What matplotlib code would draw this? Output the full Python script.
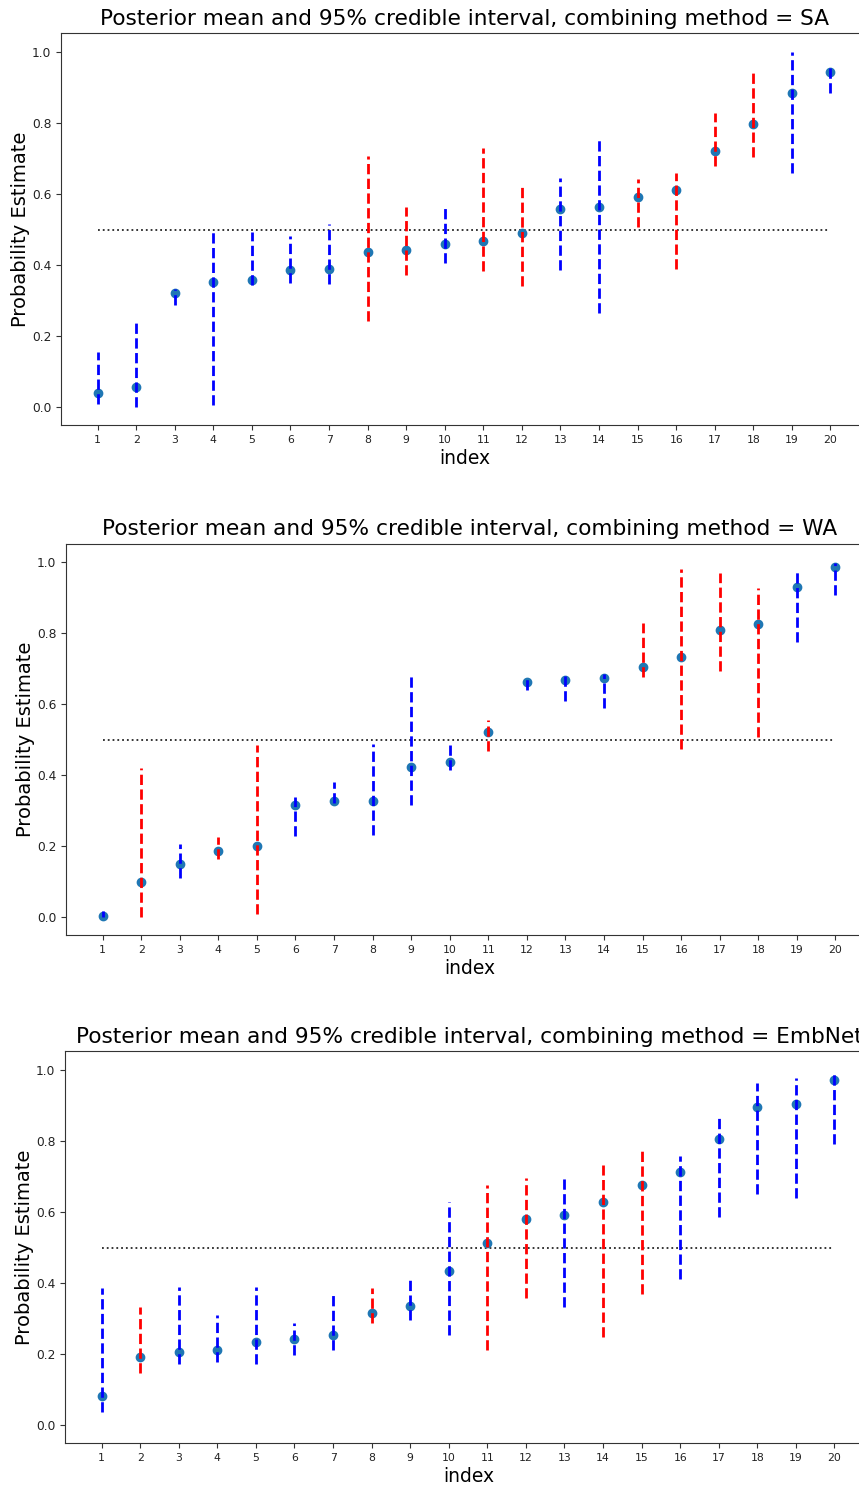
import matplotlib
matplotlib.use("Agg")
import matplotlib.pyplot as plt
import numpy as np

W, H = 859, 1487
DPI = 100

index = list(range(1, 21))
methods = ["SA", "WA", "EmbNet"]

# --- SA ---
sa_mean = [0.040, 0.057, 0.321, 0.351, 0.358, 0.385, 0.389, 0.436, 0.442, 0.459,
           0.467, 0.491, 0.558, 0.564, 0.591, 0.612, 0.720, 0.798, 0.883, 0.944]
sa_low = [0.009, 0.002, 0.288, 0.005, 0.344, 0.349, 0.346, 0.244, 0.372, 0.407,
          0.383, 0.342, 0.387, 0.264, 0.507, 0.390, 0.680, 0.704, 0.660, 0.885]
sa_high = [0.156, 0.241, 0.332, 0.493, 0.493, 0.482, 0.515, 0.708, 0.562, 0.562,
           0.730, 0.619, 0.644, 0.756, 0.641, 0.658, 0.827, 0.945, 1.000, 0.965]
sa_color = ["b", "b", "b", "b", "b", "b", "b", "r", "r", "b",
            "r", "r", "b", "b", "r", "r", "r", "r", "b", "b"]

# --- WA ---
wa_mean = [0.003, 0.098, 0.149, 0.187, 0.200, 0.315, 0.328, 0.328, 0.423, 0.437,
           0.521, 0.663, 0.669, 0.673, 0.704, 0.734, 0.808, 0.826, 0.930, 0.988]
wa_low = [0.000, 0.001, 0.110, 0.164, 0.008, 0.228, 0.322, 0.231, 0.315, 0.416,
          0.468, 0.640, 0.610, 0.590, 0.678, 0.475, 0.694, 0.509, 0.776, 0.909]
wa_high = [0.019, 0.420, 0.207, 0.225, 0.484, 0.338, 0.381, 0.488, 0.679, 0.496,
           0.556, 0.670, 0.687, 0.684, 0.830, 0.981, 0.971, 0.928, 0.980, 0.998]
wa_color = ["b", "r", "b", "r", "r", "b", "b", "b", "b", "b",
            "r", "b", "b", "b", "r", "r", "r", "r", "b", "b"]

# --- EmbNet ---
en_mean = [0.081, 0.193, 0.207, 0.211, 0.234, 0.243, 0.254, 0.315, 0.335, 0.433,
           0.514, 0.579, 0.592, 0.629, 0.676, 0.713, 0.805, 0.896, 0.903, 0.970]
en_low = [0.036, 0.148, 0.171, 0.178, 0.171, 0.199, 0.211, 0.288, 0.295, 0.253,
          0.212, 0.357, 0.333, 0.248, 0.370, 0.411, 0.586, 0.651, 0.638, 0.792]
en_high = [0.385, 0.333, 0.390, 0.311, 0.390, 0.289, 0.367, 0.387, 0.420, 0.627,
           0.677, 0.695, 0.705, 0.731, 0.780, 0.758, 0.876, 0.963, 0.978, 0.997]
en_color = ["b", "r", "b", "b", "b", "b", "b", "r", "b", "b",
            "r", "r", "b", "r", "r", "b", "b", "b", "b", "b"]

panels = [
    (sa_mean, sa_low, sa_high, sa_color),
    (wa_mean, wa_low, wa_high, wa_color),
    (en_mean, en_low, en_high, en_color),
]

# axes boxes in pixels: left, top, bottom
boxes = [(61, 33, 425), (66, 543.5, 935), (65, 1051, 1443)]
AX_W = 808

fig = plt.figure(figsize=(W / DPI, H / DPI), dpi=DPI)

for (mean, low, high, col), method, (l, t, b) in zip(panels, methods, boxes):
    ax = fig.add_axes([l / W, (H - b) / H, AX_W / W, (b - t) / H])
    ax.scatter(index, mean, color="C0", s=36, zorder=1)
    ax.vlines(index, low, high, colors=col, linestyles="--", linewidth=2, zorder=2)
    ax.hlines(0.5, index[0], index[-1], colors="k", linestyles=":", linewidth=1.3,
              alpha=0.85, zorder=0)
    ax.set_xlim(index[0] - 0.95, index[-1] + 1.0)
    ax.set_ylim(-0.05, 1.053)
    ax.set_xticks(index)
    ax.set_yticks([0.0, 0.2, 0.4, 0.6, 0.8, 1.0])
    ax.tick_params(axis="x", labelsize=7.8, colors="#333333", labelcolor="#222222")
    ax.tick_params(axis="y", labelsize=8.8, colors="#333333", labelcolor="#222222")
    for sp in ax.spines.values():
        sp.set_color("#333333")
    ax.set_xlabel("index", fontsize=13.5, labelpad=3)
    ax.set_ylabel("Probability Estimate", fontsize=14, labelpad=1)
    ax.set_title(f"Posterior mean and 95% credible interval, combining method = {method}",
                 fontsize=15.6)

fig.savefig("out.png", dpi=DPI)
